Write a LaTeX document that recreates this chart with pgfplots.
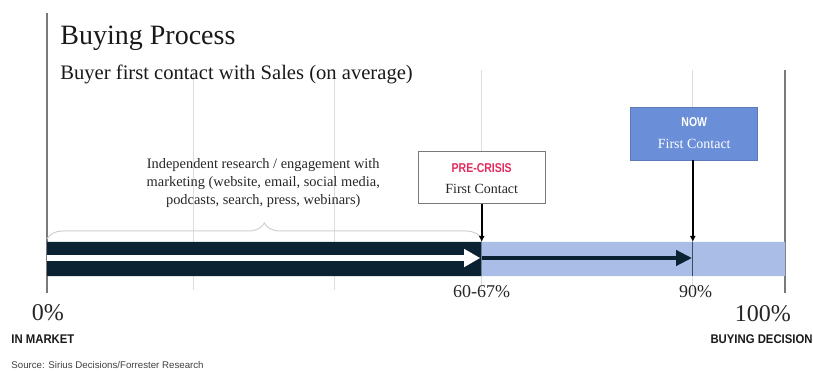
\documentclass[border=0pt]{standalone}
\usepackage{fontspec}
\setmainfont{Liberation Serif}
\newfontfamily\cond[FakeStretch=0.82]{Liberation Sans}
\newfontfamily\condb[FakeStretch=0.9]{Liberation Sans}
\newfontfamily\plainsans{Liberation Sans}
\usepackage{pgfplots}
\pgfplotsset{compat=1.18}
\usetikzlibrary{arrows.meta,decorations.pathreplacing}
\definecolor{navy}{HTML}{0B2233}
\definecolor{lightbar}{HTML}{A9BDE6}
\definecolor{nowblue}{HTML}{6A8FD8}
\definecolor{crisis}{HTML}{E42A5C}
\definecolor{gridgray}{HTML}{DDDDDD}
\definecolor{framegray}{HTML}{7A7A7A}
\definecolor{bracegray}{HTML}{CFCFCF}

\pgfplotstableread{
x y
0 94
58.9 94
58.9 128
0 128
0 94
}\researchbar
\pgfplotstableread{
x y
58.9 94
100 94
100 128
58.9 128
58.9 94
}\salesbar

\begin{document}
\begin{tikzpicture}
\begin{axis}[
  scale only axis, width=406.5pt, height=185pt,
  xmin=-6.37, xmax=103.79, ymin=0, ymax=370,
  hide axis, clip=false,
]
\coordinate (SW) at (axis cs:-6.37,0);
\coordinate (NE) at (axis cs:103.79,370);
% light grid lines
\addplot[gridgray, line width=0.6pt] coordinates {(19.8,300) (19.8,80)};
\addplot[gridgray, line width=0.6pt] coordinates {(39.0,300) (39.0,80)};
\addplot[gridgray, line width=0.6pt] coordinates {(58.9,300) (58.9,80)};
\addplot[gridgray, line width=0.6pt] coordinates {(87.5,300) (87.5,80)};
% frame lines
\addplot[framegray, line width=0.7pt] coordinates {(0,357) (0,77)};
\addplot[framegray, line width=0.7pt] coordinates {(100,300) (100,77)};
% bars
\addplot[fill=navy, draw=none] table {\researchbar};
\addplot[fill=lightbar, draw=none] table {\salesbar};
% arrows
\addplot[white, line width=3pt, -{Triangle[length=8pt,width=8.5pt]}] coordinates {(0,112) (58.7,112)};
\addplot[navy, line width=2pt, -{Triangle[length=8pt,width=7.5pt]}] coordinates {(58.9,112) (87.4,112)};
% brace
\draw[bracegray, line width=0.5pt, decorate, decoration={brace, amplitude=8pt}] (axis cs:0,131) -- (axis cs:58.9,131);
% text block
\node[anchor=base, font=\fontsize{7.2}{9}\selectfont, text=black!85] at (axis cs:29.3,201) {Independent research / engagement with};
\node[anchor=base, font=\fontsize{7.2}{9}\selectfont, text=black!85] at (axis cs:29.3,183) {marketing (website, email, social media,};
\node[anchor=base, font=\fontsize{7.2}{9}\selectfont, text=black!85] at (axis cs:29.3,165) {podcasts, search, press, webinars)};
% pre-crisis box
\draw[framegray, fill=white, line width=0.5pt] (axis cs:50.3,166) rectangle (axis cs:67.5,218);
\node[anchor=base, font=\cond\bfseries\fontsize{6.4}{7}\selectfont, text=crisis] at (axis cs:58.9,197) {PRE-CRISIS};
\node[anchor=base, font=\fontsize{7}{8}\selectfont, text=black!85] at (axis cs:58.9,176) {First Contact};
\addplot[black, line width=0.8pt, -{Latex[length=3pt,width=3pt]}] coordinates {(58.9,166) (58.9,128)};
% now box
\draw[draw=nowblue!85!black, fill=nowblue, line width=0.4pt] (axis cs:79.1,210) rectangle (axis cs:96.3,263);
\node[anchor=base, font=\cond\bfseries\fontsize{6.4}{7}\selectfont, text=white] at (axis cs:87.7,243) {NOW};
\node[anchor=base, font=\fontsize{7}{8}\selectfont, text=white] at (axis cs:87.7,221) {First Contact};
\addplot[black, line width=0.8pt, -{Latex[length=3pt,width=3pt]}] coordinates {(87.5,210) (87.5,128)};
\addplot[navy!80, line width=0.5pt] coordinates {(87.5,128) (87.5,94)};
% titles
\node[anchor=base west, inner xsep=0pt, font=\fontsize{14}{16}\selectfont, text=black!90] at (axis cs:1.76,325) {Buying Process};
\node[anchor=base west, inner xsep=0pt, font=\fontsize{10.3}{12}\selectfont, text=black!90] at (axis cs:1.76,290) {Buyer first contact with Sales (on average)};
% scale labels
\node[anchor=base, font=\fontsize{12}{14}\selectfont, text=black!85] at (axis cs:0.1,50) {0\%};
\node[anchor=base, font=\fontsize{9}{10}\selectfont, text=black!85] at (axis cs:58.9,73) {60-67\%};
\node[anchor=base, font=\fontsize{9}{10}\selectfont, text=black!85] at (axis cs:87.9,73) {90\%};
\node[anchor=base, font=\fontsize{12}{14}\selectfont, text=black!85] at (axis cs:97.0,49) {100\%};
\node[anchor=base west, inner xsep=0pt, font=\condb\bfseries\fontsize{6.3}{7}\selectfont, text=black!90] at (axis cs:-4.88,27) {IN MARKET};
\node[anchor=base east, inner xsep=0pt, font=\condb\bfseries\fontsize{6.3}{7}\selectfont, text=black!90] at (axis cs:103.79,27) {BUYING DECISION};
\node[anchor=base west, inner xsep=0pt, font=\plainsans\fontsize{4.85}{5.5}\selectfont, text=black!75] at (axis cs:-4.88,2) {Source: Sirius Decisions/Forrester Research};
\end{axis}
\pgfresetboundingbox
\useasboundingbox (SW) rectangle (NE);
\end{tikzpicture}
\end{document}
